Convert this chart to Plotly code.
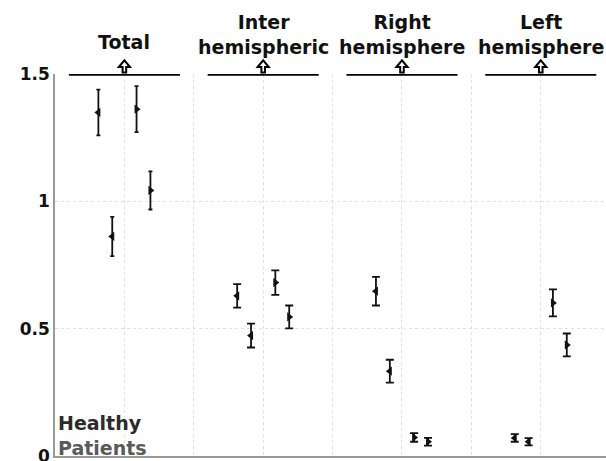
import plotly.graph_objects as go

groups = ["Total", "Inter<br>hemispheric", "Right<br>hemisphere", "Left<br>hemisphere"]
centers = [1, 3, 5, 7]
offsets = [-0.375, -0.175, 0.175, 0.375]
symbols = ["triangle-left", "triangle-left", "triangle-right", "triangle-right"]

values = [
    [1.349, 0.862, 1.362, 1.043],
    [0.629, 0.473, 0.681, 0.546],
    [0.647, 0.333, 0.073, 0.056],
    [0.071, 0.056, 0.601, 0.436],
]
errors = [
    [0.090, 0.077, 0.090, 0.075],
    [0.046, 0.047, 0.048, 0.045],
    [0.056, 0.045, 0.017, 0.015],
    [0.015, 0.014, 0.053, 0.045],
]
cap_widths = [2, 4, 4, 4]
title_shift = [19, 14, 14, 14]
bracket_half = 0.8
bracket_level = 1.5
y_ticks = [0, 0.5, 1, 1.5]
y_ticktext = ["0", "0.5", "1", "1.5"]

# hollow up-arrow glyph, in pixels relative to its anchor (top of plot = 1.5)
ARROW_PATH = "M -1.8,1.6 L -1.8,7 L -5.6,7 L 0,13.6 L 5.6,7 L 1.8,7 L 1.8,1.6 Z"

FONT = "DejaVu Sans"
fig = go.Figure()

for gi, c in enumerate(centers):
    for pi, off in enumerate(offsets):
        fig.add_trace(go.Scatter(
            x=[c + off], y=[values[gi][pi]],
            mode="markers",
            marker=dict(symbol=symbols[pi], size=8, color="#111"),
            error_y=dict(type="data", array=[errors[gi][pi]], color="#111",
                         thickness=1.8, width=cap_widths[gi]),
            showlegend=False, cliponaxis=False,
        ))
    fig.add_trace(go.Scatter(
        x=[c - bracket_half, c + bracket_half], y=[bracket_level, bracket_level],
        mode="lines", line=dict(color="#000", width=3.5),
        showlegend=False, cliponaxis=False, hoverinfo="skip",
    ))
    fig.add_shape(type="path", xref="x", yref="paper",
                  xsizemode="pixel", ysizemode="pixel",
                  xanchor=c, yanchor=1,
                  path=ARROW_PATH, fillcolor="#fff",
                  line=dict(color="#000", width=2), layer="above")
    fig.add_annotation(x=c, y=bracket_level, text="<b>" + groups[gi] + "</b>",
                       showarrow=False, yanchor="bottom", yshift=title_shift[gi],
                       font=dict(family=FONT, size=19, color="#111"))

fig.add_annotation(x=0.02, y=0.13, xref="x", yref="y", text="<b>Healthy</b>",
                   showarrow=False, xanchor="left", yanchor="middle",
                   font=dict(family=FONT, size=19, color="#2b2b2b"))
fig.add_annotation(x=0.02, y=0.03, xref="x", yref="y", text="<b>Patients</b>",
                   showarrow=False, xanchor="left", yanchor="middle",
                   font=dict(family=FONT, size=19, color="#5a5a5a"))

fig.update_layout(
    width=606, height=461,
    margin=dict(l=55, r=0, t=74, b=5, autoexpand=False),
    plot_bgcolor="white", paper_bgcolor="white",
    font=dict(family=FONT),
    xaxis=dict(range=[0, 7.94], tickvals=[1, 2, 3, 4, 5, 6, 7], showticklabels=False,
               showgrid=True, gridcolor="#e0e0e0", griddash="dot", gridwidth=1,
               showline=True, linecolor="#9a9a9a", linewidth=1.5, zeroline=False,
               ticks="", automargin=False),
    yaxis=dict(range=[0, 1.5], tickvals=y_ticks, ticktext=["<b>%s</b>" % t for t in y_ticktext],
               tickfont=dict(family=FONT, size=17, color="#111"),
               ticklabeloverflow="allow", automargin=False,
               showgrid=True, gridcolor="#e0e0e0", griddash="dot", gridwidth=1,
               showline=True, linecolor="#9a9a9a", linewidth=1.5, zeroline=False,
               ticks="", ticklen=0),
)

fig.write_html("out.html")
